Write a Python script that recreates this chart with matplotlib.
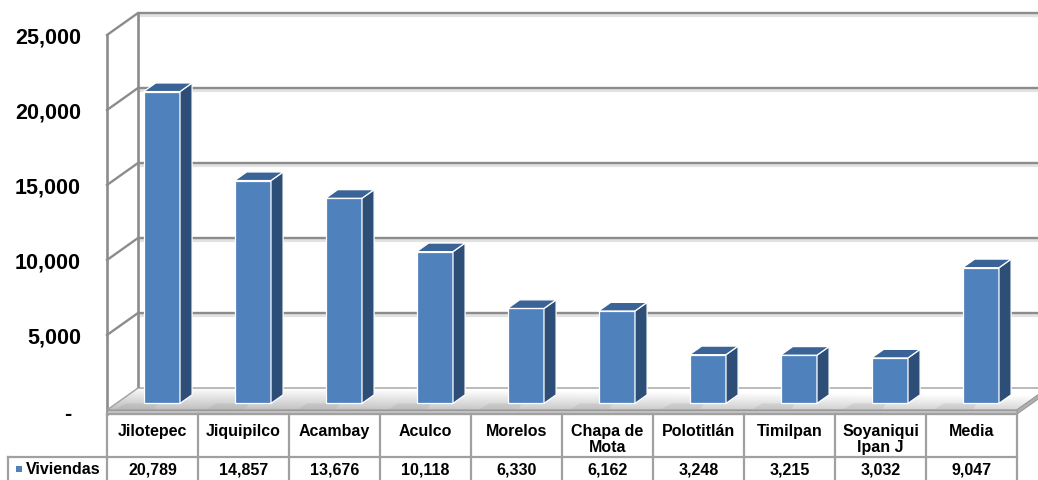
import matplotlib
matplotlib.use("Agg")
import matplotlib.pyplot as plt
from matplotlib.patches import Polygon, Rectangle
from matplotlib import transforms
import numpy as np

plt.rcParams['font.family'] = ['Liberation Sans', 'DejaVu Sans']

categories = ["Jilotepec", "Jiquipilco", "Acambay", "Aculco", "Morelos",
              "Chapa de\nMota", "Polotitlán", "Timilpan", "Soyaniqui\nlpan J", "Media"]
viviendas = [20789, 14857, 13676, 10118, 6330, 6162, 3248, 3215, 3032, 9047]
value_labels = ["20,789", "14,857", "13,676", "10,118", "6,330",
                "6,162", "3,248", "3,215", "3,032", "9,047"]
series_name = "Viviendas"
yticks = [0, 5000, 10000, 15000, 20000, 25000]
ytick_labels = ["-", "5,000", "10,000", "15,000", "20,000", "25,000"]

W, H = 1038, 480
fig = plt.figure(figsize=(W / 100, H / 100), dpi=100)

# pixel geometry of the plot
X0, CW = 107, 91          # left of first category column, column width
Y0, PPV = 410, 0.015      # pixel row of value 0 (front), pixels per unit
DXp, DYp = 31, 22         # depth offset in pixels

ax = fig.add_axes([0, 0, 1, 1])
ax.set_xlim((0 - X0) / CW - 0.5, (W - X0) / CW - 0.5)
ax.set_ylim((Y0 - H) / PPV, Y0 / PPV)
ax.axis('off')

pax = fig.add_axes([0, 0, 1, 1], zorder=5)
pax.set_xlim(0, W)
pax.set_ylim(H, 0)
pax.axis('off')
pax.patch.set_alpha(0)

DX = DXp / CW
DY = DYp / PPV
n = len(categories)
xl, xr = -0.5, n - 0.5
ymax = yticks[-1]

grid_c = '#8c8c8c'
# walls / gridlines
for v in yticks[1:]:
    ax.plot([xl + DX, xr + DX + 1], [v + DY, v + DY], color='#e2e2e2', lw=3.0,
            zorder=1, solid_capstyle='butt',
            transform=ax.transData + transforms.ScaledTranslation(0, -1.5 / 100, fig.dpi_scale_trans))
    ax.plot([xl, xl + DX, xr + DX + 1], [v, v + DY, v + DY], color=grid_c, lw=1.7, zorder=1.1)
ax.plot([xl, xl], [-270, ymax], color=grid_c, lw=1.9, zorder=1.2)
ax.plot([xl + DX, xl + DX], [DY, ymax + DY], color=grid_c, lw=1.9, zorder=1.2)

# floor
lip = 270
floor = Polygon([[xl, 0], [xr, 0], [xr + DX, DY], [xl + DX, DY]], closed=True,
                facecolor='none', edgecolor='#a0a0a0', lw=1.0, zorder=2.1)
ax.add_patch(floor)
grad = np.linspace(0.74, 0.98, 64)[:, None] * np.ones((64, 64))
xg = np.linspace(0, 1, 64)[None, :]
grad = np.clip(grad + 0.10 * xg, 0, 1)
im = ax.imshow(grad, cmap='gray', vmin=0, vmax=1, origin='lower', aspect='auto',
               extent=[xl, xr + DX, 0, DY], zorder=2, interpolation='bilinear')
clip_poly = Polygon([[xl, 0], [xr, 0], [xr + DX, DY], [xl + DX, DY]], closed=True,
                    transform=ax.transData)
im.set_clip_path(clip_poly)
ax.add_patch(Polygon([[xl, 0], [xr, 0], [xr, -lip], [xl, -lip]], closed=True,
                     facecolor='#c4c4c4', edgecolor='#9a9a9a', lw=0.8, zorder=2.2))
ax.add_patch(Polygon([[xr, 0], [xr + DX, DY], [xr + DX, DY - lip], [xr, -lip]], closed=True,
                     facecolor='#b0b0b0', edgecolor='#9a9a9a', lw=0.8, zorder=2.2))
# soft bar shadows on the floor
for i, v in enumerate(viviendas):
    ax.add_patch(Polygon([[i - 0.40, 0.05 * DY], [i + 0.02, 0.05 * DY],
                          [i + 0.06, 0.3 * DY], [i - 0.30, 0.3 * DY]], closed=True,
                         facecolor='#9e9e9e', alpha=0.22, edgecolor='none', zorder=2.05))

# bars
f0, f1 = 0.30, 0.69
bw = 0.40
front_c, side_c, top_c = '#4f81bd', '#2d4e77', '#3a6398'
xs = np.arange(n)
ax.bar(xs + f0 * DX, viviendas, width=bw, bottom=f0 * DY, color=front_c,
       edgecolor='white', linewidth=0.9, zorder=3)
for i, v in enumerate(viviendas):
    xa = i - bw / 2 + f0 * DX
    xb = i + bw / 2 + f0 * DX
    b0 = f0 * DY
    d = (f1 - f0)
    side = Polygon([[xb, b0], [xb + d * DX, b0 + d * DY], [xb + d * DX, b0 + v + d * DY], [xb, b0 + v]],
                   closed=True, facecolor=side_c, edgecolor='white', lw=0.9, zorder=3.1)
    top = Polygon([[xa, b0 + v], [xb, b0 + v], [xb + d * DX, b0 + v + d * DY], [xa + d * DX, b0 + v + d * DY]],
                  closed=True, facecolor=top_c, edgecolor='white', lw=0.9, zorder=3.1)
    ax.add_patch(side)
    ax.add_patch(top)

# y tick labels
ytr = transforms.blended_transform_factory(pax.transData, ax.transData)
for v, lab in zip(yticks, ytick_labels):
    if v == 0:
        ax.text(68, v - 300, lab, transform=ytr, ha='center', va='center',
                fontsize=15.5, fontweight='bold')
    else:
        ax.text(81, v - 200, lab, transform=ytr, ha='right', va='center',
                fontsize=15.5, fontweight='bold')

# data table
ttr = transforms.blended_transform_factory(ax.transData, pax.transData)
tab_c = '#a0a0a0'
row_top, row_mid, row_bot = 414, 457, 482
for i in range(n + 1):
    x = i - 0.5
    ax.plot([x, x], [row_top, row_bot], color=tab_c, lw=1.6, transform=ttr, zorder=6, clip_on=False)
ax.plot([xl, xr], [row_top, row_top], color=tab_c, lw=1.6, transform=ttr, zorder=6)
pax.plot([8, 8], [row_mid, row_bot], color=tab_c, lw=1.6, zorder=6)
pax.plot([8, X0], [row_mid, row_mid], color=tab_c, lw=1.6, zorder=6)
ax.plot([xl, xr], [row_mid, row_mid], color=tab_c, lw=1.6, transform=ttr, zorder=6)
for i, lab in enumerate(categories):
    ax.text(i, 424, lab, transform=ttr, ha='center', va='top', fontsize=11.5,
            fontweight='bold', linespacing=1.05, zorder=7)
    ax.text(i, 470, value_labels[i], transform=ttr, ha='center', va='center',
            fontsize=11.5, fontweight='bold', zorder=7)
pax.add_patch(Rectangle((16, 466), 6, 6, facecolor=front_c, edgecolor='none', zorder=7))
pax.text(26, 470, series_name, ha='left', va='center', fontsize=11.5, fontweight='bold', zorder=7)

fig.savefig('out.png', dpi=100)
